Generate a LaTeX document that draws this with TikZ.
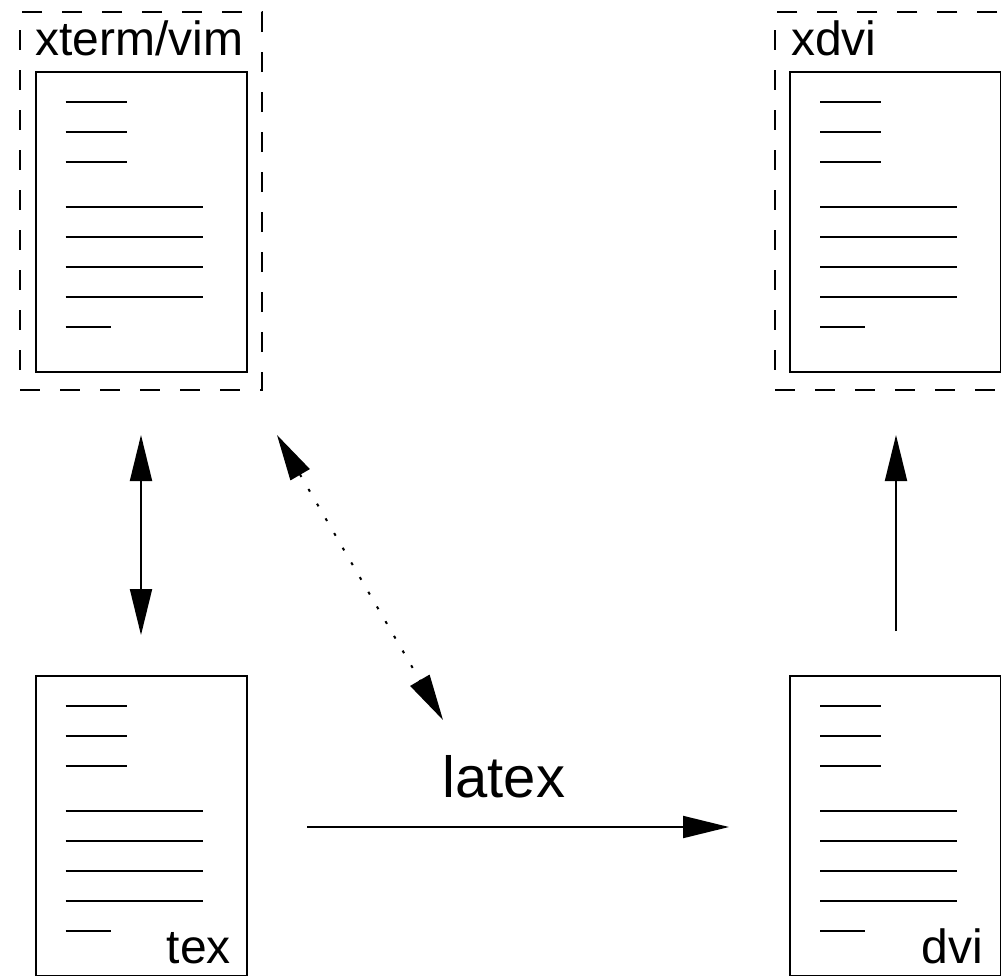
\documentclass[tikz,border=0pt]{standalone}
\usepackage{fontspec}
\setmainfont{Liberation Sans}
\usetikzlibrary{arrows.meta}
\tikzset{
  docbox/.style={draw, line width=2pt, rectangle, minimum width=211pt, minimum height=300pt, inner sep=0pt, outer sep=0pt},
  winbox/.style={draw, line width=2pt, dash pattern=on 20pt off 20pt, rectangle, minimum width=242pt, minimum height=378pt, inner sep=0pt, outer sep=0pt},
  txtline/.style={line width=1.6pt},
  lbl/.style={inner sep=0pt, font=\fontsize{48}{50}\selectfont},
  biglbl/.style={inner sep=0pt, font=\fontsize{58}{60}\selectfont},
  conn/.style={line width=2pt, arrows={-Triangle[length=46pt,width=22pt]}},
  dconn/.style={line width=2pt, arrows={Triangle[length=46pt,width=22pt]-Triangle[length=46pt,width=22pt]}},
}
\newcommand{\doclines}[2]{%
  \begin{scope}[shift={(#1,#2)}]
    \foreach \yy in {30,60,90} {\draw[txtline] (30,\yy) -- (91,\yy);}
    \foreach \yy in {135,165,195,225} {\draw[txtline] (30,\yy) -- (167,\yy);}
    \draw[txtline] (30,255) -- (75,255);
  \end{scope}}
\begin{document}
\begin{tikzpicture}[x=1pt,y=-1pt]
\useasboundingbox (0,0) rectangle (1001,975);
\clip (0,0) rectangle (1001,975);
% windows
\node[winbox] (win1) at (141,201) {};
\node[winbox] (win2) at (896,201) {};
\node[lbl, anchor=base west] (t1) at (35,55) {xterm/vim};
\node[lbl, anchor=base west] (t2) at (791,55) {xdvi};
% documents
\node[docbox] (d1) at (141,222) {};
\node[docbox] (d2) at (895.5,222) {};
\node[docbox] (d3) at (141,826) {};
\node[docbox] (d4) at (895.5,826) {};
\doclines{35.5}{72}
\doclines{790}{72}
\doclines{35.5}{676}
\doclines{790}{676}
\node[lbl, anchor=base east] (t3) at (231,963) {tex};
\node[lbl, anchor=base east] (t4) at (983,963) {dvi};
% connectors
\coordinate (a1) at (141,435);
\coordinate (a2) at (141,635);
\coordinate (b1) at (277,435);
\coordinate (b2) at (443,720);
\coordinate (c1) at (307,827);
\coordinate (c2) at (729,827);
\coordinate (e1) at (896,631);
\coordinate (e2) at (896,435);
\draw[dconn] (a1) -- (a2);
\draw[dconn, dash pattern=on 3pt off 14pt] (b1) -- (b2);
\draw[conn] (c1) -- (c2);
\draw[conn] (e1) -- (e2);
\node[biglbl, anchor=base] (lt) at (504,797) {latex};
\end{tikzpicture}
\end{document}
